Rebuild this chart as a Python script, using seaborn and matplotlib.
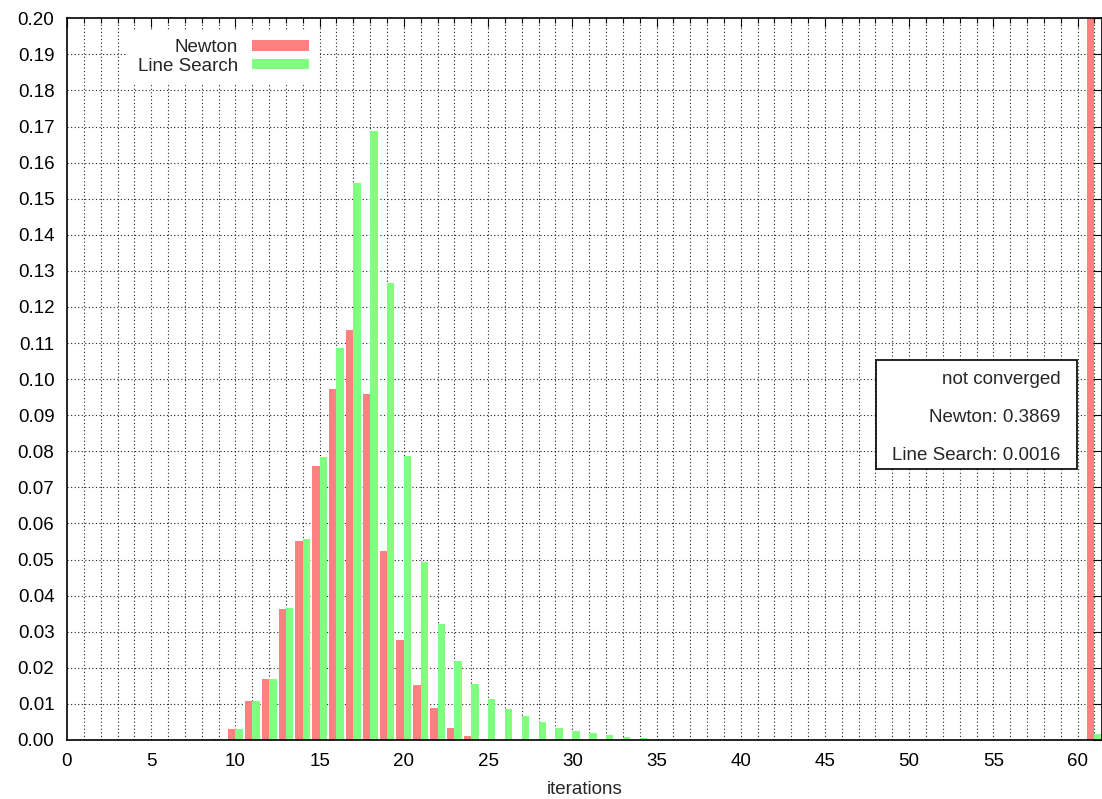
import numpy as np
import pandas as pd
import matplotlib
matplotlib.use("Agg")
import matplotlib.pyplot as plt
import seaborn as sns
from matplotlib.ticker import MultipleLocator, FormatStrFormatter
from matplotlib.patches import Rectangle

# ---- data ----
iterations = list(range(9, 36)) + [61]   # 61 = "not converged" bucket
newton = [0.0004, 0.0030, 0.0108, 0.0169, 0.0363, 0.0551, 0.0760, 0.0972, 0.1136,
          0.0958, 0.0524, 0.0278, 0.0152, 0.0089, 0.0033, 0.0011, 0.0003, 0.0001,
          0.0, 0.0, 0.0, 0.0, 0.0, 0.0, 0.0, 0.0, 0.0, 0.3869]
line_search = [0.0003, 0.0030, 0.0108, 0.0169, 0.0366, 0.0557, 0.0784, 0.1086, 0.1543,
               0.1687, 0.1266, 0.0787, 0.0493, 0.0321, 0.0219, 0.0155, 0.0114, 0.0086,
               0.0067, 0.0050, 0.0033, 0.0025, 0.0019, 0.0014, 0.0008, 0.0006, 0.0002,
               0.0016]
series_names = ["Newton", "Line Search"]
series_colors = ["#ff8080", "#80ff80"]
not_conv_title = "not converged"
not_conv_newton = 0.3869
not_conv_ls = 0.0016

df = pd.DataFrame({
    "iterations": iterations * 2,
    "fraction": newton + line_search,
    "method": [series_names[0]] * len(iterations) + [series_names[1]] * len(iterations),
})

sns.set_style("white")
plt.rcParams["font.family"] = ["Liberation Sans", "DejaVu Sans"]
FS = 13.5

W, H = 1102, 799
fig = plt.figure(figsize=(W / 100, H / 100), dpi=100)
ax = fig.add_axes([67 / W, 59 / H, (W - 67) / W, (740 - 18.3) / H])

sns.barplot(data=df, x="iterations", y="fraction", hue="method",
            native_scale=True, dodge=True, width=0.88, gap=0,
            palette=series_colors, saturation=1, linewidth=0,
            errorbar=None, ax=ax, legend=True, zorder=2)

ax.set_xlim(0, 61.45)
ax.set_ylim(0, 0.2)

# grid (dotted), drawn below bars
xmin, xmax = ax.get_xlim()
ax.vlines(np.arange(1, 62), 0, 0.2, colors="#222222", linestyles=(0, (1, 2.2)),
          linewidth=0.8, zorder=0.3)
ax.hlines(np.arange(0.01, 0.2, 0.01), xmin, xmax, colors="#222222",
          linestyles=(0, (1, 2.2)), linewidth=0.8, zorder=0.3)
ax.grid(False)
ax.set_axisbelow(False)

ax.xaxis.set_major_locator(MultipleLocator(5))
ax.xaxis.set_minor_locator(MultipleLocator(1))
ax.yaxis.set_major_locator(MultipleLocator(0.01))
ax.yaxis.set_major_formatter(FormatStrFormatter("%.2f"))
ax.xaxis.set_major_formatter(FormatStrFormatter("%d"))

ax.tick_params(axis="both", which="both", direction="in", top=True, right=True,
               labelsize=FS, colors="black", width=0.8)
ax.tick_params(axis="both", which="major", length=6.5, pad=9)
ax.tick_params(axis="x", which="minor", length=3.6)

for s in ax.spines.values():
    s.set_visible(True)
    s.set_color("black")
    s.set_linewidth(1.2)

ax.set_xlabel("iterations", fontsize=FS, labelpad=8)
ax.set_ylabel("")

# legend gnuplot-like: text right-aligned, swatch after it, opaque white key area
bp = 0.5
pad_px = bp * FS * 100 / 72
leg = ax.legend(loc="upper right",
                bbox_to_anchor=((309 + pad_px - 67) / (W - 67),
                                (740 - (39 - pad_px)) / (740 - 18.3)),
                frameon=True, fontsize=FS, markerfirst=False, handlelength=3.05,
                handleheight=0.48, handletextpad=0.75, labelspacing=0.1,
                borderpad=bp, borderaxespad=0, title=None, fancybox=False)
leg.get_frame().set_facecolor("white")
leg.get_frame().set_edgecolor("none")
leg.get_frame().set_alpha(1)
try:
    for col in leg._legend_handle_box.get_children():
        col.align = "right"
except Exception:
    pass

# "not converged" box
box_x0, box_x1 = (876 - 67) / 16.84, (1077 - 67) / 16.84
box_y0, box_y1 = (740 - 469) / 3610, (740 - 360) / 3610
ax.add_patch(Rectangle((box_x0, box_y0), box_x1 - box_x0, box_y1 - box_y0,
                       facecolor="white", edgecolor="black", linewidth=1.2, zorder=3))
tx = (1060 - 67) / 16.84
lines = [not_conv_title,
         f"{series_names[0]}: {not_conv_newton:.4f}",
         f"{series_names[1]}: {not_conv_ls:.4f}"]
for i, t in enumerate(lines):
    ax.text(tx, (740 - (379 + i * 38)) / 3610, t, ha="right", va="center",
            fontsize=FS, zorder=4)

fig.savefig("out.png", dpi=100)
